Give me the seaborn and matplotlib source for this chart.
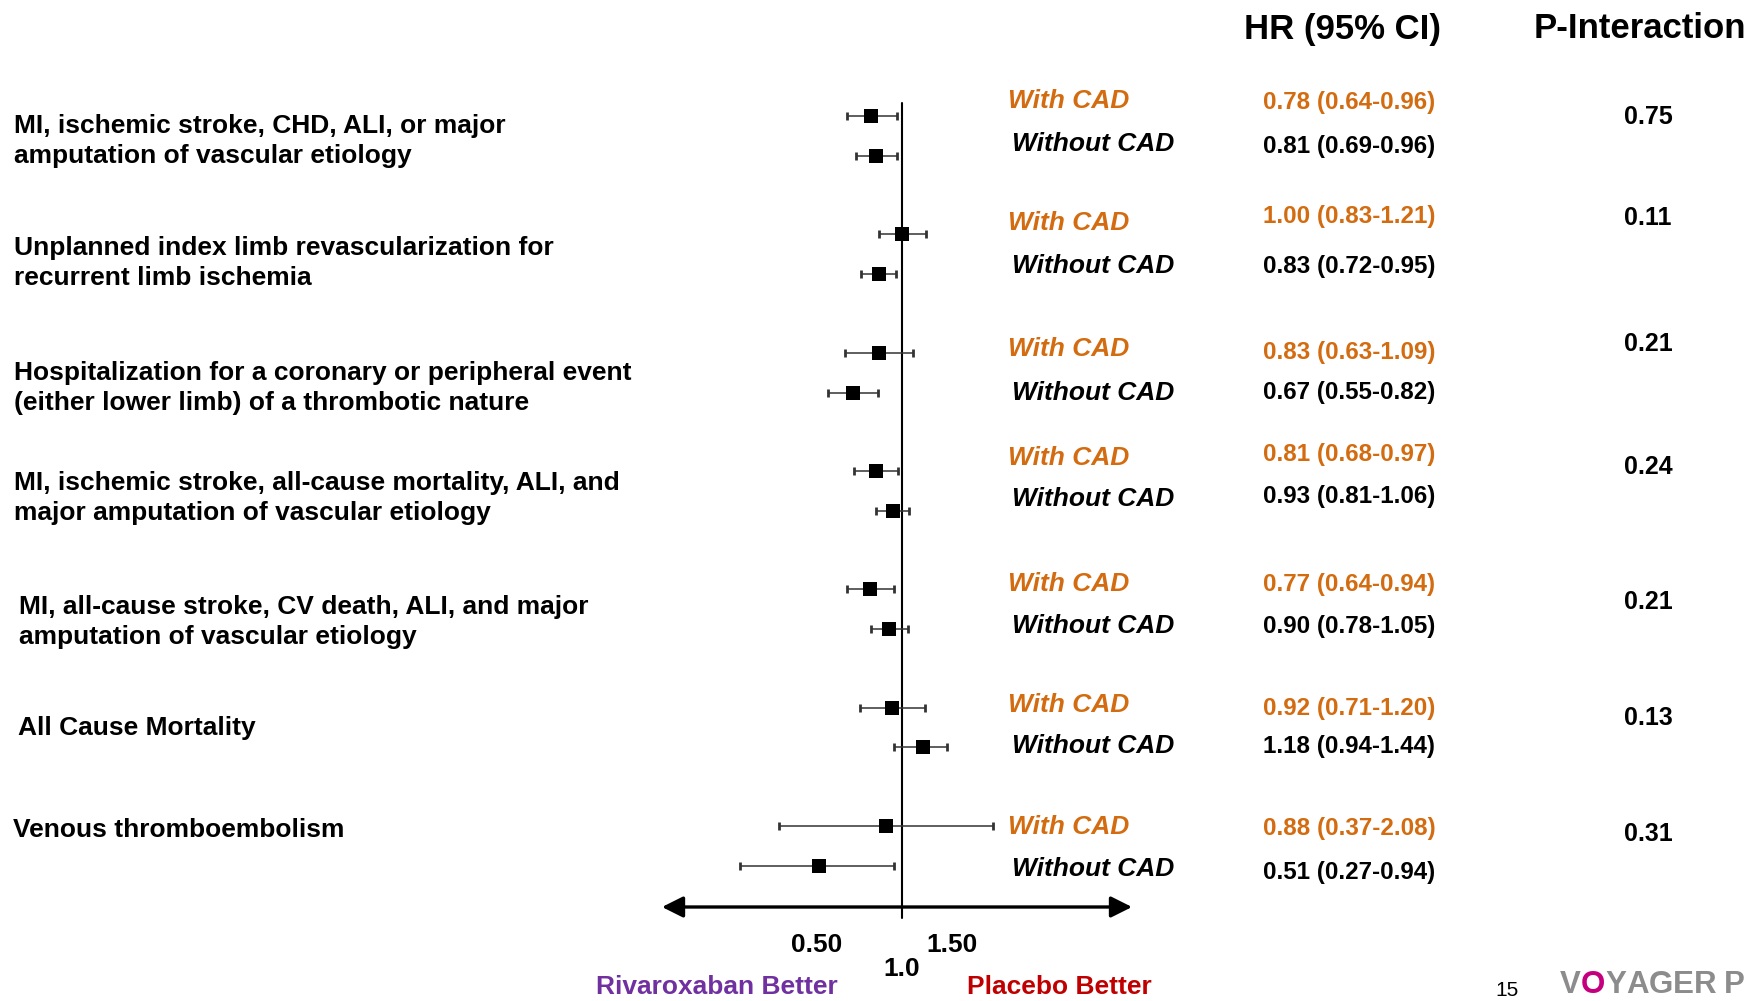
import numpy as np
import pandas as pd
import matplotlib
matplotlib.use("Agg")
import matplotlib.pyplot as plt
import seaborn as sns

# ---------------- data ----------------
outcomes = [
    "MI, ischemic stroke, CHD, ALI, or major\namputation of vascular etiology",
    "Unplanned index limb revascularization for\nrecurrent limb ischemia",
    "Hospitalization for a coronary or peripheral event\n(either lower limb) of a thrombotic nature",
    "MI, ischemic stroke, all-cause mortality, ALI, and\nmajor amputation of vascular etiology",
    "MI, all-cause stroke, CV death, ALI, and major\namputation of vascular etiology",
    "All Cause Mortality",
    "Venous thromboembolism",
]
groups = ["With CAD", "Without CAD"]
hr_with = [0.78, 1.00, 0.83, 0.81, 0.77, 0.92, 0.88]
lo_with = [0.64, 0.83, 0.63, 0.68, 0.64, 0.71, 0.37]
hi_with = [0.96, 1.21, 1.09, 0.97, 0.94, 1.20, 2.08]
hr_without = [0.81, 0.83, 0.67, 0.93, 0.90, 1.18, 0.51]
lo_without = [0.69, 0.72, 0.55, 0.81, 0.78, 0.94, 0.27]
hi_without = [0.96, 0.95, 0.82, 1.06, 1.05, 1.44, 0.94]
p_interaction = ["0.75", "0.11", "0.21", "0.24", "0.21", "0.13", "0.31"]
x_ticks = [0.5, 1.0, 1.5]
x_ticklabels = ["0.50", "\n1.0", "1.50"]

# ---------------- style ----------------
sns.set_style("white")
plt.rcParams["font.family"] = ["Liberation Sans", "DejaVu Sans"]
plt.rcParams["text.color"] = "black"
plt.rcParams["xtick.color"] = "black"
plt.rcParams["xtick.labelcolor"] = "black"

ORANGE = "#D36C10"
PURPLE = "#7030A0"
RED = "#C00000"

W, H = 1752, 1001
fig = plt.figure(figsize=(W / 100, H / 100), dpi=100)
fig.patch.set_facecolor("white")

def px(x, y):
    return x / W, 1 - y / H

def ftext(x, y, s, **kw):
    kw.setdefault("va", "center")
    return fig.text(*px(x, y), s, **kw)

# ---------------- forest axes ----------------
row_px0, row_step = 116.0, 118.3   # layout of rows in pixels
axis_px = 907
ax_left, ax_right = 662, 1132
ax = fig.add_axes([ax_left / W, (H - axis_px) / H, (ax_right - ax_left) / W, axis_px / H])
ax.set_xscale("log")
ax.set_xlim(0.144, 6.39)
y_top = -row_px0 / row_step
y_bot = (axis_px - row_px0) / row_step
ax.set_ylim(y_bot, y_top)
ax.patch.set_alpha(0)

recs = []
for i in range(len(outcomes)):
    recs.append(dict(outcome=i, group=groups[0], hr=hr_with[i], lo=lo_with[i], hi=hi_with[i], ypos=i))
    recs.append(dict(outcome=i, group=groups[1], hr=hr_without[i], lo=lo_without[i], hi=hi_without[i], ypos=i + 0.338))
df = pd.DataFrame(recs)

ax.errorbar(df["hr"], df["ypos"], xerr=[df["hr"] - df["lo"], df["hi"] - df["hr"]],
            fmt="none", ecolor="#333333", elinewidth=1.1, capsize=3, capthick=2.0, zorder=2)
sns.scatterplot(data=df, x="hr", y="ypos", marker="s", s=95, color="black",
                linewidth=0, ax=ax, zorder=3, legend=False)

# reference line at HR = 1
ax.plot([1, 1], [(103 - row_px0) / row_step, (918 - row_px0) / row_step],
        color="black", lw=1.5, clip_on=False, zorder=1)

# arrowed axis
ax.annotate("", xy=(0, 0), xytext=(1, 0), xycoords="axes fraction", textcoords="axes fraction",
            arrowprops=dict(arrowstyle="<|-|>,head_length=0.8,head_width=0.4", lw=2.4,
                            color="black", mutation_scale=16, shrinkA=0, shrinkB=0))

for s in ax.spines.values():
    s.set_visible(False)
ax.set_yticks([])
ax.set_xticks(x_ticks)
ax.set_xticklabels(x_ticklabels)
ax.minorticks_off()
ax.tick_params(axis="x", which="major", length=7.5, width=1.2, color="black", pad=11,
               labelsize=19, labelcolor="black")
for lbl in ax.get_xticklabels():
    lbl.set_fontweight("bold")
    lbl.set_linespacing(1.0)
ax.set_xlabel("")
ax.set_ylabel("")

# ---------------- texts ----------------
# outcome labels (x, center-y in px)
label_pos = [(14, 141), (14, 263), (14, 388), (14, 498), (19, 622), (18, 728), (13, 830)]
for (x, y), txt in zip(label_pos, outcomes):
    ftext(x, y, txt, ha="left", fontsize=19, fontweight="bold", linespacing=1.36)

with_y = [101, 223, 349, 458, 584, 705, 827]
without_y = [144, 266, 393, 499, 626, 746, 869]
hr_with_y = [102, 217, 352, 454, 585, 708, 828]
hr_without_y = [147, 267, 392, 496, 627, 746, 873]
p_y = [117, 218, 344, 467, 602, 718, 834]

for i in range(len(outcomes)):
    ftext(1008, with_y[i], groups[0], ha="left", fontsize=19, fontweight="bold",
          fontstyle="italic", color=ORANGE)
    ftext(1012, without_y[i], groups[1], ha="left", fontsize=19, fontweight="bold",
          fontstyle="italic", color="black")
    ftext(1263, hr_with_y[i], f"{hr_with[i]:.2f} ({lo_with[i]:.2f}-{hi_with[i]:.2f})",
          ha="left", fontsize=17.4, fontweight="bold", color=ORANGE)
    ftext(1263, hr_without_y[i], f"{hr_without[i]:.2f} ({lo_without[i]:.2f}-{hi_without[i]:.2f})",
          ha="left", fontsize=17.4, fontweight="bold", color="black")
    ftext(1648, p_y[i], p_interaction[i], ha="center", fontsize=18, fontweight="bold")

ftext(1342, 29, "HR (95% CI)", ha="center", fontsize=25, fontweight="bold")
ftext(1534, 29, "P-Interaction", ha="left", fontsize=25, fontweight="bold")

ftext(717, 987, "Rivaroxaban Better", ha="center", fontsize=19, fontweight="bold", color=PURPLE)
ftext(1059, 987, "Placebo Better", ha="center", fontsize=19, fontweight="bold", color=RED)

ftext(1507, 991, "15", ha="center", fontsize=15)

# logo text at the bottom-right corner
renderer = fig.canvas.get_renderer()
xcur = 1560
for ch, col in zip("VOYAGER P", ["#8C8C8C", "#C4007F", "#8C8C8C", "#8C8C8C", "#8C8C8C",
                                 "#8C8C8C", "#8C8C8C", "#8C8C8C", "#8C8C8C"]):
    t = ftext(xcur, 1000, ch, ha="left", va="bottom", fontsize=22.5, fontweight="bold", color=col)
    bb = t.get_window_extent(renderer=renderer)
    xcur += bb.width if ch != " " else 7

fig.savefig("out.png", dpi=100, facecolor="white")
